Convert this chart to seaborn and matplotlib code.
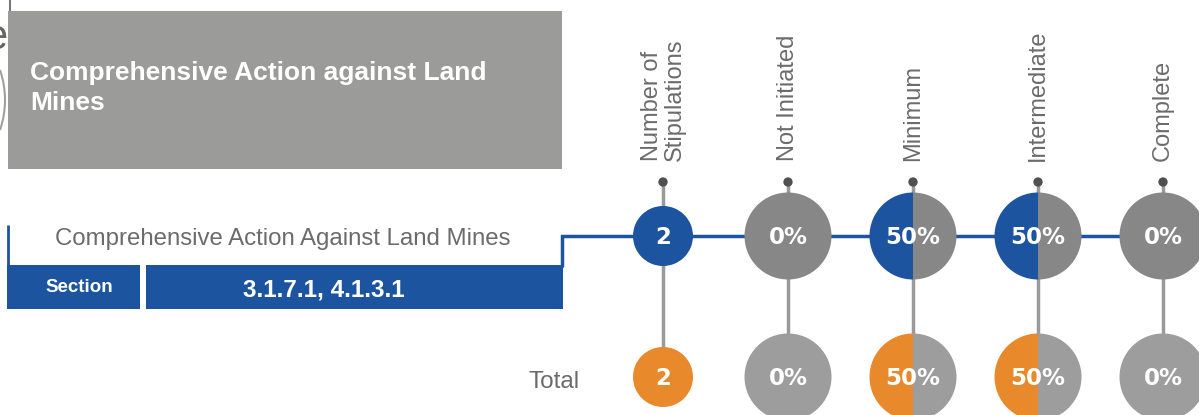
import numpy as np
import matplotlib
matplotlib.use("Agg")
import matplotlib.pyplot as plt
import seaborn as sns
import pandas as pd
from matplotlib.patches import Wedge, Rectangle, Arc

# ---------------- data ----------------
title = "Comprehensive Action against Land\nMines"
subtitle = "Comprehensive Action Against Land Mines"
section_label = "Section"
section_value = "3.1.7.1, 4.1.3.1"
row_label = "Total"
categories = ["Number of\nStipulations", "Not Initiated", "Minimum", "Intermediate", "Complete"]
kinds = ["count", "pct", "pct", "pct", "pct"]
top_values = [2, 0, 50, 50, 0]
total_values = [2, 0, 50, 50, 0]

# ---------------- style ----------------
BLUE = "#1c54a0"
ORANGE = "#e8892b"
GRAY_TOP = "#878787"
GRAY_BOT = "#9d9d9d"
BOX_GRAY = "#9b9b99"
TEXT_GRAY = "#6b6b6b"
LINE_GRAY = "#9a9a9a"
DOT = "#505050"

sns.set_theme(style="white")
plt.rcParams["font.family"] = ["Liberation Sans", "DejaVu Sans"]

W, H = 1199, 415
fig = plt.figure(figsize=(W / 100, H / 100), dpi=100)
ax = fig.add_axes([0, 0, 1, 1])
ax.set_xlim(0, W)
ax.set_ylim(H, 0)
ax.axis("off")

# layout
X0, STEP = 663, 125
TOP_Y, BOT_Y, DOT_Y, LABEL_Y = 236, 377, 182, 161
R_COUNT, R_PCT = 30, 43.5
col_x = [X0 + STEP * i for i in range(len(categories))]

# ----- clipped neighbouring elements on the left edge -----
ax.plot([10, 10], [0, 11], color="#777777", lw=1.5, zorder=1)
ax.text(7, 38, "e", ha="right", va="center", fontsize=30, color="#666666", zorder=1)
ax.add_patch(Arc((-87, 100), 184, 184, theta1=-19, theta2=19, color="#a0a0a0", lw=1.5))

# ----- title box -----
ax.add_patch(Rectangle((8, 11), 554, 158, facecolor=BOX_GRAY, edgecolor="none", zorder=2))
ax.text(30, 88, title, ha="left", va="center", fontsize=19, fontweight="bold",
        color="white", linespacing=1.35, zorder=3)

# ----- subtitle & section boxes -----
ax.plot([8, 8], [225, 266], color=BLUE, lw=2, zorder=2, solid_capstyle="butt")
ax.text(283, 239, subtitle, ha="center", va="center", fontsize=17.3, color=TEXT_GRAY)
ax.add_patch(Rectangle((7, 265), 133, 44, facecolor=BLUE, edgecolor="none", zorder=2))
ax.add_patch(Rectangle((146, 265), 417, 44, facecolor=BLUE, edgecolor="none", zorder=2))
ax.text(79, 287, section_label, ha="center", va="center", fontsize=13.5,
        fontweight="bold", color="white", zorder=3)
ax.text(324, 290, section_value, ha="center", va="center", fontsize=17.5,
        fontweight="bold", color="white", zorder=3)
ax.text(580, 382, row_label, ha="right", va="center", fontsize=17.5, color=TEXT_GRAY)

# ----- connector lines -----
ax.plot([562, 562, W], [266, TOP_Y, TOP_Y], color=BLUE, lw=2.5, zorder=1,
        solid_joinstyle="miter")
for x in col_x:
    ax.plot([x, x], [DOT_Y, BOT_Y], color=LINE_GRAY, lw=2.5, zorder=1)

df_dots = pd.DataFrame({"x": col_x, "y": [DOT_Y] * len(col_x)})
sns.scatterplot(data=df_dots, x="x", y="y", ax=ax, s=45, color=DOT,
                edgecolor="none", zorder=4, legend=False)
ax.set_xlim(0, W)
ax.set_ylim(H, 0)
ax.axis("off")

# ----- category labels -----
for x, lab in zip(col_x, categories):
    ax.text(x, LABEL_Y, lab, rotation=90, ha="center", va="bottom", fontsize=17,
            color=TEXT_GRAY, linespacing=1.05, multialignment="left")


def draw_node(x, y, kind, value, color, gray):
    if kind == "count":
        ax.add_patch(Wedge((x, y), R_COUNT, 0, 360, facecolor=color,
                           edgecolor="none", zorder=5))
        txt = f"{value}"
    else:
        frac = value / 100.0
        if frac > 0:
            ax.add_patch(Wedge((x, y), R_PCT, 90, 90 + 360 * frac,
                               facecolor=color, edgecolor="none", zorder=5))
        if frac < 1:
            ax.add_patch(Wedge((x, y), R_PCT, 90 + 360 * frac, 450,
                               facecolor=gray, edgecolor="none", zorder=5))
        txt = f"{value}%"
    ax.text(x, y + 1, txt, ha="center", va="center", fontsize=16.5,
            fontweight="bold", family=["DejaVu Sans"], color="white", zorder=6)


for x, k, v in zip(col_x, kinds, top_values):
    draw_node(x, TOP_Y, k, v, BLUE, GRAY_TOP)
for x, k, v in zip(col_x, kinds, total_values):
    draw_node(x, BOT_Y, k, v, ORANGE, GRAY_BOT)

fig.savefig("out.png", dpi=100)
